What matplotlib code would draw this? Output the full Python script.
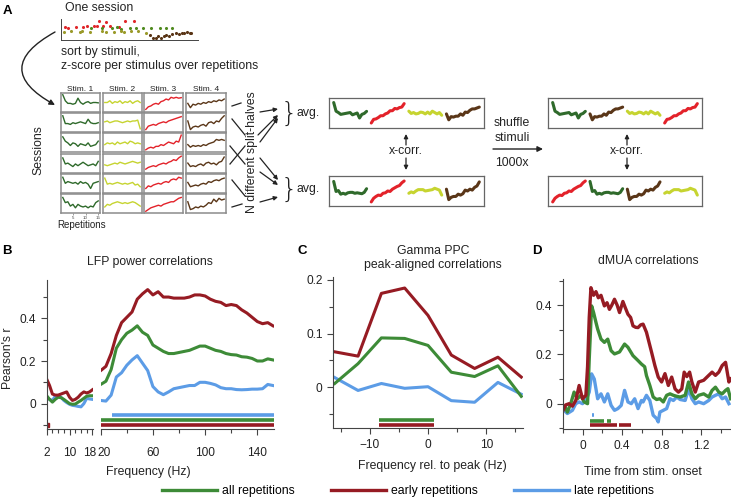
import numpy as np
import matplotlib.pyplot as plt
import matplotlib.transforms as mtransforms

plt.rcParams['font.family'] = ['Liberation Sans', 'DejaVu Sans']

W, H = 731, 499
RED = '#961b23'
GREEN = '#3d8b37'
BLUE = '#5c9ce6'
AX = '#444444'

# ---------------- data: panel B (LFP power correlations) ----------------
b_low_f = [2, 3, 4, 5, 6, 7, 8, 9, 10, 11, 12, 13, 14, 15, 16, 17, 18]
b_low_early = [0.115, 0.085, 0.045, 0.04, 0.04, 0.045, 0.05, 0.055, 0.03, 0.015, 0.02, 0.03, 0.045, 0.055, 0.05, 0.055, 0.065]
b_low_all = [0.037, 0.02, 0.007, 0.02, 0.03, 0.028, 0.02, 0.01, 0.0, -0.003, -0.002, 0.007, 0.015, 0.025, 0.035, 0.037, 0.037]
b_low_late = [0.027, 0.02, 0.015, 0.035, 0.038, 0.03, 0.015, 0.005, -0.003, -0.008, -0.01, -0.013, -0.015, 0.0, 0.025, 0.022, 0.02]

b_f = [20, 24, 28, 32, 36, 40, 44, 48, 52, 56, 60, 64, 68, 72, 76, 80, 84, 88, 92, 96,
       100, 104, 108, 112, 116, 120, 124, 128, 132, 136, 140, 144, 148, 152]
b_early = [0.155, 0.175, 0.235, 0.32, 0.38, 0.405, 0.43, 0.49, 0.515, 0.535, 0.51, 0.525, 0.50, 0.50,
           0.495, 0.495, 0.495, 0.50, 0.51, 0.51, 0.505, 0.49, 0.48, 0.475, 0.46, 0.465, 0.46, 0.44,
           0.425, 0.405, 0.385, 0.375, 0.38, 0.365]
b_all = [0.09, 0.105, 0.16, 0.26, 0.30, 0.33, 0.345, 0.365, 0.335, 0.32, 0.275, 0.26, 0.245, 0.235,
         0.235, 0.24, 0.245, 0.25, 0.26, 0.27, 0.27, 0.26, 0.25, 0.245, 0.235, 0.23, 0.228, 0.22,
         0.218, 0.212, 0.2, 0.2, 0.21, 0.205]
b_late = [0.015, 0.012, 0.04, 0.125, 0.145, 0.18, 0.205, 0.225, 0.19, 0.155, 0.08, 0.055, 0.042, 0.055,
          0.07, 0.075, 0.08, 0.085, 0.085, 0.1, 0.1, 0.095, 0.088, 0.075, 0.07, 0.07, 0.066, 0.065,
          0.066, 0.068, 0.068, 0.07, 0.09, 0.085]
b_sig = {'late': [(29, 153)], 'all': [(20, 153)], 'early': [(20, 153)]}

# ---------------- data: panel C (Gamma PPC) ----------------
c_f = [-16, -12, -8, -4, 0, 4, 8, 12, 16]
c_early = [0.066, 0.058, 0.175, 0.185, 0.134, 0.06, 0.035, 0.056, 0.019]
c_all = [0.007, 0.044, 0.092, 0.091, 0.078, 0.028, 0.02, 0.040, -0.017]
c_late = [0.018, -0.006, 0.007, -0.002, 0.001, -0.025, -0.028, 0.009, -0.013]
c_sig = {'all': [(-8.4, 1.0)], 'early': [(-8.4, 1.0)]}

# ---------------- data: panel D (dMUA correlations) ----------------
d_t_early = [-0.204, -0.17, -0.136, -0.102, -0.068, -0.034, 0.0, 0.034, 0.051, 0.068, 0.085, 0.112,
             0.136, 0.16, 0.187, 0.221, 0.248, 0.272, 0.296, 0.323, 0.35, 0.374, 0.408, 0.432, 0.459,
             0.486, 0.51, 0.537, 0.561, 0.588, 0.612, 0.646, 0.697, 0.731, 0.765, 0.799, 0.833, 0.867,
             0.901, 0.935, 0.969, 1.003, 1.027, 1.054, 1.082, 1.105, 1.139, 1.173, 1.224, 1.275, 1.309,
             1.343, 1.377, 1.411, 1.445, 1.479, 1.496]
d_early = [-0.034, -0.005, 0.0, -0.01, 0.013, 0.074, 0.02, 0.034, 0.15, 0.35, 0.471, 0.44,
           0.455, 0.43, 0.44, 0.397, 0.41, 0.383, 0.40, 0.424, 0.40, 0.37, 0.415, 0.39, 0.363,
           0.35, 0.316, 0.31, 0.309, 0.32, 0.323, 0.29, 0.21, 0.155, 0.108, 0.088, 0.122, 0.074,
           0.108, 0.06, 0.047, 0.06, 0.128, 0.11, 0.128, 0.088, 0.047, 0.088, 0.095, 0.115, 0.128,
           0.115, 0.128, 0.155, 0.168, 0.088, 0.101]
d_t_all = [-0.204, -0.18, -0.153, -0.119, -0.085, -0.051, -0.017, 0.017, 0.051, 0.068, 0.092, 0.112,
           0.136, 0.153, 0.187, 0.221, 0.255, 0.289, 0.323, 0.374, 0.425, 0.459, 0.51, 0.561, 0.595,
           0.628, 0.646, 0.68, 0.714, 0.748, 0.782, 0.816, 0.85, 0.884, 0.918, 0.952, 0.986, 1.037,
           1.071, 1.105, 1.139, 1.173, 1.224, 1.275, 1.309, 1.343, 1.377, 1.411, 1.445, 1.469, 1.496]
d_all = [-0.02, -0.01, -0.034, 0.0, 0.047, 0.02, 0.034, 0.007, 0.0, 0.181, 0.397, 0.37,
         0.33, 0.303, 0.262, 0.249, 0.262, 0.215, 0.202, 0.21, 0.242, 0.229, 0.195, 0.175, 0.161,
         0.15, 0.114, 0.074, 0.027, 0.017, 0.02, 0.007, 0.034, 0.04, 0.034, 0.03, 0.027, 0.034,
         0.088, 0.04, 0.02, 0.034, 0.04, 0.027, 0.054, 0.067, 0.047, 0.04, 0.054, 0.061, 0.02]
d_t_late = [-0.204, -0.153, -0.102, -0.068, -0.034, 0.0, 0.034, 0.068, 0.092, 0.119, 0.153, 0.187,
            0.221, 0.255, 0.289, 0.323, 0.357, 0.391, 0.425, 0.459, 0.493, 0.527, 0.561, 0.595,
            0.612, 0.646, 0.68, 0.714, 0.748, 0.765, 0.782, 0.816, 0.85, 0.884, 0.918, 0.952, 0.986,
            1.037, 1.071, 1.105, 1.139, 1.173, 1.224, 1.275, 1.309, 1.343, 1.377, 1.411, 1.445, 1.479]
d_late = [-0.02, -0.04, -0.027, 0.0, 0.007, 0.0, 0.013, 0.047, 0.121, 0.10, 0.02, 0.04,
          0.007, 0.04, -0.007, -0.027, -0.02, -0.007, 0.054, 0.007, 0.0, 0.02, -0.02, 0.013,
          0.007, 0.034, 0.013, -0.047, -0.06, -0.074, -0.034, -0.027, -0.02, 0.02, 0.013, 0.027, 0.017,
          0.013, 0.06, 0.02, 0.0, 0.007, 0.0, 0.013, 0.027, 0.034, 0.04, 0.02, 0.027, 0.0]
d_sig = {'late': [(0.100, 0.118)], 'all': [(0.078, 0.215), (0.245, 0.283)],
         'early': [(0.078, 0.351), (0.368, 0.487)]}

# ---------------- data: panel A (schematic) ----------------
stim_names = ['Stim. 1', 'Stim. 2', 'Stim. 3', 'Stim. 4']
stim_colors = ['#2f6a2b', '#c6d430', '#e3222a', '#5a3618']
reps = list(range(1, 16))
sessions = [
    [[0.95, 0.6, 0.45, 0.45, 0.4, 0.45, 0.75, 0.5, 0.4, 0.5, 0.55, 0.45, 0.5, 0.5, 0.48],
     [0.5, 0.5, 0.6, 0.45, 0.55, 0.5, 0.6, 0.45, 0.55, 0.5, 0.6, 0.45, 0.55, 0.6, 0.5],
     [0.1, 0.25, 0.3, 0.4, 0.45, 0.4, 0.55, 0.6, 0.7, 0.65, 0.8, 0.75, 0.8, 0.75, 0.78],
     [0.45, 0.2, 0.4, 0.35, 0.45, 0.4, 0.5, 0.45, 0.55, 0.5, 0.6, 0.55, 0.65, 0.6, 0.7]],
    [[0.9, 0.45, 0.45, 0.4, 0.5, 0.45, 0.5, 0.55, 0.5, 0.45, 0.7, 0.5, 0.45, 0.45, 0.5],
     [0.55, 0.6, 0.5, 0.55, 0.6, 0.6, 0.55, 0.5, 0.55, 0.6, 0.55, 0.6, 0.6, 0.65, 0.15],
     [0.1, 0.3, 0.35, 0.4, 0.35, 0.45, 0.5, 0.55, 0.5, 0.6, 0.65, 0.7, 0.75, 0.8, 0.85],
     [0.6, 0.1, 0.25, 0.3, 0.25, 0.35, 0.4, 0.3, 0.5, 0.55, 0.45, 0.6, 0.55, 0.75, 0.9]],
    [[0.85, 0.6, 0.5, 0.35, 0.5, 0.45, 0.3, 0.45, 0.4, 0.35, 0.5, 0.3, 0.35, 0.4, 0.6],
     [0.4, 0.5, 0.45, 0.5, 0.4, 0.55, 0.45, 0.5, 0.55, 0.45, 0.6, 0.55, 0.45, 0.5, 0.45],
     [0.1, 0.2, 0.25, 0.2, 0.3, 0.3, 0.4, 0.35, 0.45, 0.55, 0.5, 0.45, 0.6, 0.55, 0.95],
     [0.4, 0.25, 0.35, 0.3, 0.35, 0.3, 0.4, 0.35, 0.45, 0.5, 0.55, 0.7, 0.65, 0.7, 0.65]],
    [[0.8, 0.45, 0.5, 0.4, 0.3, 0.45, 0.35, 0.45, 0.55, 0.45, 0.35, 0.4, 0.45, 0.35, 0.6],
     [0.4, 0.35, 0.4, 0.45, 0.5, 0.45, 0.55, 0.5, 0.45, 0.5, 0.55, 0.6, 0.55, 0.5, 0.55],
     [0.15, 0.25, 0.3, 0.35, 0.3, 0.4, 0.45, 0.5, 0.45, 0.55, 0.6, 0.7, 0.65, 0.8, 0.9],
     [0.5, 0.3, 0.35, 0.3, 0.4, 0.45, 0.35, 0.5, 0.55, 0.45, 0.5, 0.4, 0.55, 0.6, 0.85]],
    [[0.85, 0.5, 0.6, 0.55, 0.5, 0.55, 0.45, 0.6, 0.5, 0.55, 0.45, 0.2, 0.5, 0.55, 0.6],
     [0.8, 0.45, 0.5, 0.45, 0.5, 0.55, 0.5, 0.45, 0.5, 0.45, 0.5, 0.55, 0.4, 0.45, 0.3],
     [0.2, 0.35, 0.3, 0.4, 0.45, 0.5, 0.45, 0.55, 0.6, 0.55, 0.7, 0.75, 0.7, 0.85, 0.8],
     [0.55, 0.3, 0.35, 0.4, 0.35, 0.45, 0.5, 0.45, 0.6, 0.55, 0.65, 0.7, 0.65, 0.75, 0.8]],
    [[0.85, 0.55, 0.6, 0.35, 0.45, 0.25, 0.45, 0.35, 0.3, 0.35, 0.25, 0.35, 0.3, 0.55, 0.65],
     [0.3, 0.45, 0.4, 0.5, 0.55, 0.6, 0.55, 0.5, 0.55, 0.5, 0.55, 0.6, 0.55, 0.45, 0.35],
     [0.05, 0.15, 0.25, 0.3, 0.35, 0.4, 0.35, 0.45, 0.5, 0.55, 0.6, 0.6, 0.7, 0.8, 0.85],
     [0.6, 0.15, 0.2, 0.3, 0.25, 0.35, 0.3, 0.4, 0.55, 0.5, 0.75, 0.6, 0.8, 0.7, 0.75]],
]
# one session, interleaved trials (x = trial order, y = response)
sess_red_x = [0.03, 0.05, 0.11, 0.16, 0.19, 0.24, 0.26, 0.28, 0.31, 0.33, 0.36, 0.42, 0.47, 0.53]
sess_red_y = [0.66, 0.62, 0.67, 0.64, 0.7, 0.68, 0.72, 0.95, 0.7, 0.92, 0.68, 0.66, 0.95, 0.97]
sess_grn_x = [0.22, 0.3, 0.37, 0.41, 0.44, 0.5, 0.55, 0.6, 0.66, 0.72, 0.77, 0.81]
sess_grn_y = [0.6, 0.62, 0.58, 0.65, 0.55, 0.6, 0.62, 0.58, 0.6, 0.62, 0.6, 0.62]
sess_olv_x = [0.02, 0.07, 0.14, 0.15, 0.21, 0.3, 0.33, 0.39, 0.44, 0.46, 0.51, 0.56, 0.62]
sess_olv_y = [0.42, 0.44, 0.4, 0.46, 0.42, 0.44, 0.4, 0.42, 0.45, 0.4, 0.43, 0.44, 0.36]
sess_brn_x = [0.65, 0.67, 0.69, 0.71, 0.73, 0.75, 0.77, 0.79, 0.81, 0.84, 0.86, 0.88, 0.9, 0.92, 0.94, 0.95]
sess_brn_y = [0.25, 0.12, 0.1, 0.18, 0.12, 0.2, 0.25, 0.22, 0.3, 0.35, 0.32, 0.36, 0.34, 0.38, 0.36, 0.35]
order_top = [0, 2, 1, 3]       # green, red, yellow, brown
order_shuf_top = [0, 3, 1, 2]  # green, brown, yellow, red
order_shuf_bot = [2, 0, 3, 1]  # red, green, brown, yellow

fig = plt.figure(figsize=(W / 100, H / 100), dpi=100)


def box(x0, y0, x1, y1):
    return [x0 / W, 1 - y1 / H, (x1 - x0) / W, (y1 - y0) / H]


def style(ax):
    for s in ['top', 'right']:
        ax.spines[s].set_visible(False)
    for s in ['left', 'bottom']:
        ax.spines[s].set_color(AX)
        ax.spines[s].set_linewidth(0.8)
    ax.tick_params(which='both', direction='out', color=AX, width=0.8, labelsize=8.6,
                   labelcolor='#222222')
    ax.tick_params(which='major', length=4)
    ax.tick_params(which='minor', length=3)
    ax.patch.set_alpha(0)


def nudge(label, dx):
    label.set_transform(label.get_transform() +
                        mtransforms.ScaledTranslation(dx / 100, 0, fig.dpi_scale_trans))


# ---------------- panel A ----------------
ax_s = fig.add_axes(box(61, 19, 198, 40))
ax_s.scatter(sess_red_x, sess_red_y, s=5, color='#e0262a', lw=0)
ax_s.scatter(sess_grn_x, sess_grn_y, s=5, color='#4f8a1e', lw=0)
ax_s.scatter(sess_olv_x, sess_olv_y, s=5, color='#9a9a2a', lw=0)
ax_s.scatter(sess_brn_x, sess_brn_y, s=5, color='#5a3516', lw=0)
ax_s.set_xlim(0, 1)
ax_s.set_ylim(0, 1.05)
for s in ['top', 'right']:
    ax_s.spines[s].set_visible(False)
for s in ['left', 'bottom']:
    ax_s.spines[s].set_color(AX)
    ax_s.spines[s].set_linewidth(0.7)
ax_s.set_xticks([])
ax_s.set_yticks([])

col_x = [(61, 100), (103, 142), (144, 183), (186, 226)]
for r, row in enumerate(sessions):
    y0 = 93 + r * 20.2
    for c, vals in enumerate(row):
        a = fig.add_axes(box(col_x[c][0], y0, col_x[c][1], y0 + 19))
        a.plot(reps, vals, color=stim_colors[c], lw=1.0)
        a.set_xlim(0.3, 15.7)
        a.set_ylim(-0.05, 1.05)
        a.set_yticks([])
        for s in a.spines.values():
            s.set_color('#8c8c8c')
            s.set_linewidth(1.1)
        if r == 5 and c == 0:
            a.set_xticks([5, 10, 15])
            a.tick_params(axis='x', length=1.5, width=0.5, labelsize=3.2, pad=0.8,
                          color='#777777', labelcolor='#444444')
        else:
            a.set_xticks([])
        if r == 0:
            a.set_title(stim_names[c], fontsize=6, pad=1.5, color='#222222')

top_half = np.mean([sessions[i] for i in (0, 2, 4)], axis=0)
bot_half = np.mean([sessions[i] for i in (1, 3, 5)], axis=0)


def avg_box(rect, half, order):
    a = fig.add_axes(box(*rect))
    for k, si in enumerate(order):
        xs = np.array(reps) + k * 16
        a.plot(xs, half[si], color=stim_colors[si], lw=2.2, solid_capstyle='round')
    a.set_xlim(-1, 65)
    a.set_ylim(-0.05, 1.05)
    a.set_xticks([])
    a.set_yticks([])
    for s in a.spines.values():
        s.set_color('#666666')
        s.set_linewidth(0.9)


avg_box((329, 98, 484, 128), top_half, order_top)
avg_box((329, 176, 484, 206), bot_half, order_top)
avg_box((548, 98, 702, 128), top_half, order_shuf_top)
avg_box((548, 176, 702, 206), bot_half, order_shuf_bot)

# overlay axes in pixel coordinates for schematic text and arrows
ax0 = fig.add_axes([0, 0, 1, 1])
ax0.set_xlim(0, W)
ax0.set_ylim(H, 0)
ax0.axis('off')
ax0.set_facecolor('none')

tk = dict(color='#222222', fontsize=8.8)
lab = dict(fontsize=9.5, fontweight='bold', va='center', ha='center')
ax0.text(7, 11, 'A', **lab)
ax0.text(7, 251, 'B', **lab)
ax0.text(302, 251, 'C', **lab)
ax0.text(537, 251, 'D', **lab)

ax0.text(65, 8, 'One session', va='center', **tk)
ax0.text(61, 52, 'sort by stimuli,', va='center', **tk)
ax0.text(61, 66, 'z-score per stimulus over repetitions', va='center', **tk)
ax0.text(38, 150, 'Sessions', rotation=90, va='center', ha='center', **tk)
ax0.text(57, 225, 'Repetitions', va='center', color='#222222', fontsize=7)
ax0.text(252, 152, 'N different split-halves', rotation=90, va='center', ha='center', **tk)
ax0.annotate('', xy=(55, 105), xytext=(55, 32),
             arrowprops=dict(arrowstyle='-|>', color='#222222', lw=1.0, mutation_scale=8,
                             connectionstyle='arc3,rad=0.9', shrinkA=0, shrinkB=0))

arr = dict(arrowstyle='-|>', color='#222222', lw=0.9, mutation_scale=6, shrinkA=0, shrinkB=0)
for x0, y0, x1, y1 in [(232, 106, 241, 103), (232, 119, 245, 135), (230, 146, 245, 164),
                       (230, 164, 245, 146), (232, 207, 242, 204), (232, 180, 245, 196)]:
    ax0.plot([x0, x1], [y0, y1], color='#222222', lw=0.9)
for x0, y0, x1, y1 in [(260, 112, 278, 109), (258, 135, 278, 115), (260, 142, 278, 118),
                       (260, 158, 278, 180), (260, 172, 278, 185), (260, 202, 278, 197)]:
    ax0.annotate('', xy=(x1, y1), xytext=(x0, y0), arrowprops=arr)
for yb in (113, 189):
    ax0.text(289, yb, '}', fontsize=19, va='center', ha='center', color='#222222',
             family='DejaVu Sans', fontweight='light')
    ax0.text(308, yb, 'avg.', va='center', ha='center', **tk)

for xc in (406, 627):
    ax0.annotate('', xy=(xc, 134), xytext=(xc, 145), arrowprops=arr)
    ax0.annotate('', xy=(xc, 170), xytext=(xc, 158), arrowprops=arr)
    ax0.text(xc, 151, 'x-corr.', va='center', ha='center', **tk)
ax0.text(512, 123, 'shuffle', va='center', ha='center', **tk)
ax0.text(512, 138, 'stimuli', va='center', ha='center', **tk)
ax0.annotate('', xy=(543, 149), xytext=(493, 149),
             arrowprops=dict(arrowstyle='-|>', color='#222222', lw=1.0, mutation_scale=8,
                             shrinkA=0, shrinkB=0))
ax0.text(512, 163, '1000x', va='center', ha='center', **tk)

# ---------------- panel B ----------------
lw = 2.2
YB = (-0.119, 0.58)
axb1 = fig.add_axes(box(46.7, 280, 93, 429))
axb2 = fig.add_axes(box(100.7, 280, 274.3, 429))
for a in (axb1, axb2):
    style(a)
    a.set_ylim(*YB)
axb1.plot(b_low_f, b_low_late, color=BLUE, lw=lw)
axb1.plot(b_low_f, b_low_all, color=GREEN, lw=lw)
axb1.plot(b_low_f, b_low_early, color=RED, lw=lw)
axb1.plot([2], [-0.098], marker='s', ms=2.5, color=RED, lw=0)
axb1.set_xlim(2, 18.2)
axb1.set_xticks([2, 10, 18])
axb1.set_xticks([4, 6, 8, 12, 14, 16], minor=True)
axb1.set_yticks([0, 0.2, 0.4])
axb1.set_yticklabels(['0', '0.2', '0.4'])
axb1.set_yticks([-0.1, 0.1, 0.3, 0.5], minor=True)
axb1.tick_params(axis='x', pad=9)
ax0.text(8.5, 358, "Pearson's r", rotation=90, ha='center', va='center', **tk)

axb2.plot(b_f, b_late, color=BLUE, lw=lw)
axb2.plot(b_f, b_all, color=GREEN, lw=lw)
axb2.plot(b_f, b_early, color=RED, lw=lw)
levels_b = {'late': -0.055, 'all': -0.078, 'early': -0.098}
cols = {'late': BLUE, 'all': GREEN, 'early': RED}
for k, segs in b_sig.items():
    for s0, s1 in segs:
        axb2.plot([s0, s1], [levels_b[k]] * 2, color=cols[k], lw=2.6, solid_capstyle='butt')
axb2.set_xlim(20, 153)
axb2.set_xticks([20, 60, 100, 140])
axb2.set_xticks([40, 80, 120], minor=True)
axb2.spines['left'].set_visible(False)
axb2.set_yticks([])
axb2.tick_params(axis='x', pad=9)
nudge(axb1.get_xticklabels()[2], -2.5)
nudge(axb2.get_xticklabels()[0], 3)
ax0.text(150, 262, 'LFP power correlations', ha='center', va='center', **tk)
ax0.text(148, 472, 'Frequency (Hz)', ha='center', va='center', **tk)

# ---------------- panel C ----------------
axc = fig.add_axes(box(333, 277.3, 523, 428))
style(axc)
axc.plot(c_f, c_late, color=BLUE, lw=lw)
axc.plot(c_f, c_all, color=GREEN, lw=lw)
axc.plot(c_f, c_early, color=RED, lw=lw)
levels_c = {'all': -0.061, 'early': -0.070}
for k, segs in c_sig.items():
    for s0, s1 in segs:
        axc.plot([s0, s1], [levels_c[k]] * 2, color=cols[k], lw=2.6, solid_capstyle='butt')
axc.set_xlim(-16.3, 16.3)
axc.set_ylim(-0.076, 0.205)
axc.set_xticks([-10, 0, 10])
axc.set_xticks([-15, -5, 5, 15], minor=True)
axc.set_yticks([0, 0.1, 0.2])
axc.set_yticklabels(['0', '0.1', '0.2'])
axc.set_yticks([-0.05, 0.05, 0.15], minor=True)
axc.tick_params(axis='x', pad=4)
ax0.text(433, 251, 'Gamma PPC', ha='center', va='center', **tk)
ax0.text(433, 265, 'peak-aligned correlations', ha='center', va='center', **tk)
ax0.text(432, 466, 'Frequency rel. to peak (Hz)', ha='center', va='center', **tk)

# ---------------- panel D ----------------
axd = fig.add_axes(box(562.7, 279.3, 731, 429.3))
style(axd)
l_late, = axd.plot(d_t_late, d_late, color=BLUE, lw=2.4, label='late repetitions')
l_all, = axd.plot(d_t_all, d_all, color=GREEN, lw=2.4, label='all repetitions')
l_early, = axd.plot(d_t_early, d_early, color=RED, lw=2.4, label='early repetitions')
levels_d = {'late': -0.047, 'all': -0.069, 'early': -0.088}
for k, segs in d_sig.items():
    for s0, s1 in segs:
        axd.plot([s0, s1], [levels_d[k]] * 2, color=cols[k], lw=2.6, solid_capstyle='butt')
axd.set_xlim(-0.2, 1.5)
axd.set_ylim(-0.104, 0.505)
axd.set_xticks([0, 0.4, 0.8, 1.2])
axd.set_xticklabels(['0', '0.4', '0.8', '1.2'])
axd.set_xticks([-0.2, 0.2, 0.6, 1.0, 1.4], minor=True)
axd.set_yticks([0, 0.2, 0.4])
axd.set_yticklabels(['0', '0.2', '0.4'])
axd.set_yticks([-0.1, 0.1, 0.3, 0.5], minor=True)
axd.tick_params(axis='x', pad=4)
ax0.text(648, 261, 'dMUA correlations', ha='center', va='center', **tk)
ax0.text(643, 472, 'Time from stim. onset', ha='center', va='center', **tk)

fig.legend(handles=[l_all, l_early, l_late], loc='center', bbox_to_anchor=(408 / W, 1 - 491 / H),
           ncol=3, frameon=False, fontsize=8.8, handlelength=4.5, handletextpad=0.4,
           columnspacing=3.0, borderpad=0)

fig.savefig('out.png', dpi=100)
